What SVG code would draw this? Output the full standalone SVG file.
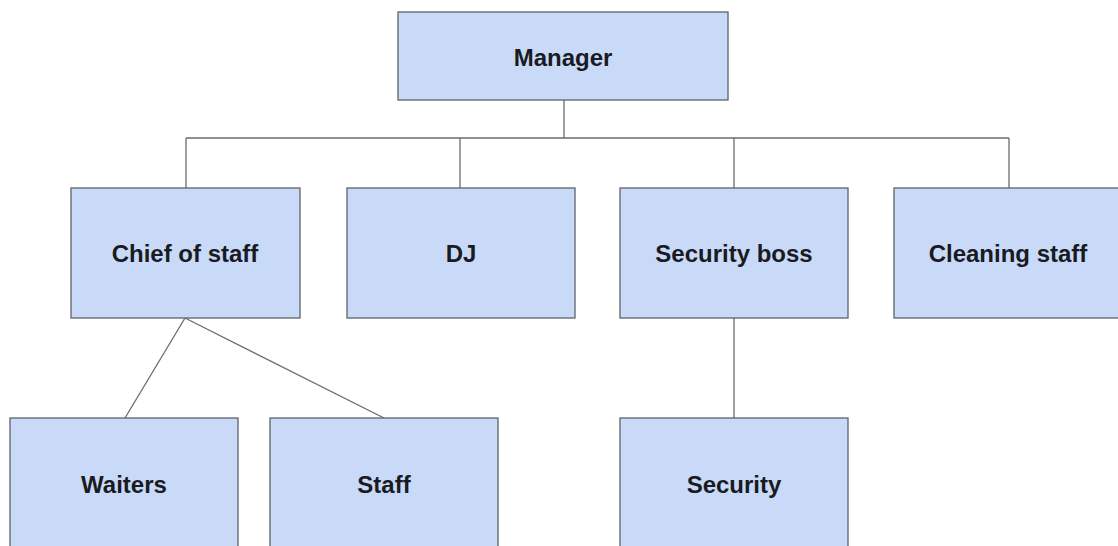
<svg xmlns="http://www.w3.org/2000/svg" width="1118" height="546" viewBox="0 0 1118 546">
  <style>
    .box { fill: #c9daf8; stroke: #5f6368; stroke-width: 1.3; }
    .lbl { font-family: "Liberation Sans", Arial, sans-serif; font-weight: bold; font-size: 24px; fill: #1a1a22; text-anchor: middle; }
    .conn { stroke: #6b6b6b; stroke-width: 1.3; fill: none; }
  </style>
  <rect x="0" y="0" width="1118" height="546" fill="#ffffff"/>
  <g id="connectors">
    <path class="conn" d="M564 100 V138"/>
    <path class="conn" d="M186 138 H1009"/>
    <path class="conn" d="M186 138 V188"/>
    <path class="conn" d="M460 138 V188"/>
    <path class="conn" d="M734 138 V188"/>
    <path class="conn" d="M1009 138 V188"/>
    <path class="conn" d="M185 318 L125 418"/>
    <path class="conn" d="M185 318 L384 418"/>
    <path class="conn" d="M734 318 V418"/>
  </g>
  <g id="manager">
    <rect class="box" x="398" y="12" width="330" height="88"/>
    <text class="lbl" x="563" y="66">Manager</text>
  </g>
  <g id="chief-of-staff">
    <rect class="box" x="71" y="188" width="229" height="130"/>
    <text class="lbl" x="185" y="262">Chief of staff</text>
  </g>
  <g id="dj">
    <rect class="box" x="347" y="188" width="228" height="130"/>
    <text class="lbl" x="461" y="262">DJ</text>
  </g>
  <g id="security-boss">
    <rect class="box" x="620" y="188" width="228" height="130"/>
    <text class="lbl" x="734" y="262">Security boss</text>
  </g>
  <g id="cleaning-staff">
    <rect class="box" x="894" y="188" width="228" height="130"/>
    <text class="lbl" x="1008" y="262">Cleaning staff</text>
  </g>
  <g id="waiters">
    <rect class="box" x="10" y="418" width="228" height="132"/>
    <text class="lbl" x="124" y="493">Waiters</text>
  </g>
  <g id="staff">
    <rect class="box" x="270" y="418" width="228" height="132"/>
    <text class="lbl" x="384" y="493">Staff</text>
  </g>
  <g id="security">
    <rect class="box" x="620" y="418" width="228" height="132"/>
    <text class="lbl" x="734" y="493">Security</text>
  </g>
</svg>
